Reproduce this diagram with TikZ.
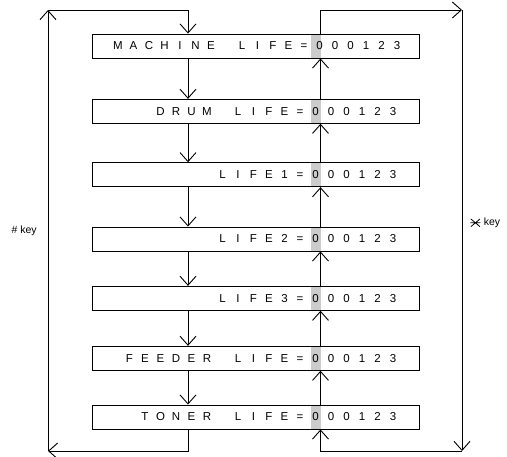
\documentclass[tikz,border=0pt]{standalone}
\usepackage{fontspec}
\setmainfont{Liberation Sans}
\usetikzlibrary{arrows.meta}
\usetikzlibrary{calc,positioning,backgrounds}

% every character in a cell of the same width
\newlength{\cellwd}
\setlength{\cellwd}{15.5pt}
\def\spaced#1{\spacedi#1\relax}
\def\spacedi#1{\ifx#1\relax\else\makebox[\cellwd]{#1}\expandafter\spacedi\fi}

% the key symbol: a cross with a bar through it
\newcommand{\barcross}{\tikz[baseline=-2.9pt, x=1pt, y=1pt, line width=0.8pt]{%
    \draw[-] (-5,0) -- (5,0) (-4.5,-3.8) -- (4.5,3.8) (-4.5,3.8) -- (4.5,-3.8);}}

\tikzset{
  lifebox/.style={draw, line width=0.9pt, minimum height=24pt, inner ysep=0pt,
    inner xsep=18.25pt, text width=290.5pt, align=right,
    font=\fontsize{11.5}{13}\selectfont},
  flow/.style={line width=0.9pt, ->},
  keylabel/.style={font=\fontsize{10.5}{12}\selectfont},
}

\begin{document}
\begin{tikzpicture}[x=1pt, y=-1pt, >={Straight Barb[length=9pt,width=16pt]}]
    \useasboundingbox (0,0) rectangle (507,457);

    \node[lifebox] (machine) at (255.5,46) {\spaced{MACHINE~LIFE=000123}};
    \node[lifebox] (drum) at (255.5,111.3) {\spaced{DRUM~LIFE=000123}};
    \node[lifebox] (life1) at (255.5,174.7) {\spaced{LIFE1=000123}};
    \node[lifebox] (life2) at (255.5,239) {\spaced{LIFE2=000123}};
    \node[lifebox] (life3) at (255.5,298.3) {\spaced{LIFE3=000123}};
    \node[lifebox] (feeder) at (255.5,358.3) {\spaced{FEEDER~LIFE=000123}};
    \node[lifebox] (toner) at (255.5,417) {\spaced{TONER~LIFE=000123}};

    \coordinate (gl) at (310.5,0);
    \coordinate (gr) at (320.5,0);
    \coordinate (dl) at (188,0);
    \coordinate (ur) at (320.5,0);
    \coordinate (tl) at (48,10);
    \coordinate (bl) at (48,451);
    \coordinate (tr) at (462,10);
    \coordinate (br) at (462,451);

    % cursor on the first digit
    \begin{scope}[on background layer]
        \foreach \b in {machine,drum,life1,life2,life3,feeder,toner}
            \fill[gray!40] (\b.north -| gl) rectangle (\b.south -| gr);
    \end{scope}

    \foreach \a/\b in {machine/drum,drum/life1,life1/life2,life2/life3,life3/feeder,feeder/toner}{
        \draw[flow] (\a.south -| dl) -- (\b.north -| dl);
        \draw[flow] (\b.north -| ur) -- (\a.south -| ur);
    }

    % # key loop
    \draw[flow] (toner.south -| dl) |- (bl);
    \draw[flow] (bl) -- node[keylabel, left=7.5pt]{\# key} (tl);
    \draw[flow] (tl) -| (machine.north -| dl);

    % other key loop
    \draw[flow] (machine.north -| ur) |- (tr);
    \draw[flow] (tr) -- node[keylabel, right=4.5pt, pos=0.483]{\barcross\ key} (br);
    \draw[flow] (br) -| (toner.south -| ur);

\end{tikzpicture}
\end{document}
